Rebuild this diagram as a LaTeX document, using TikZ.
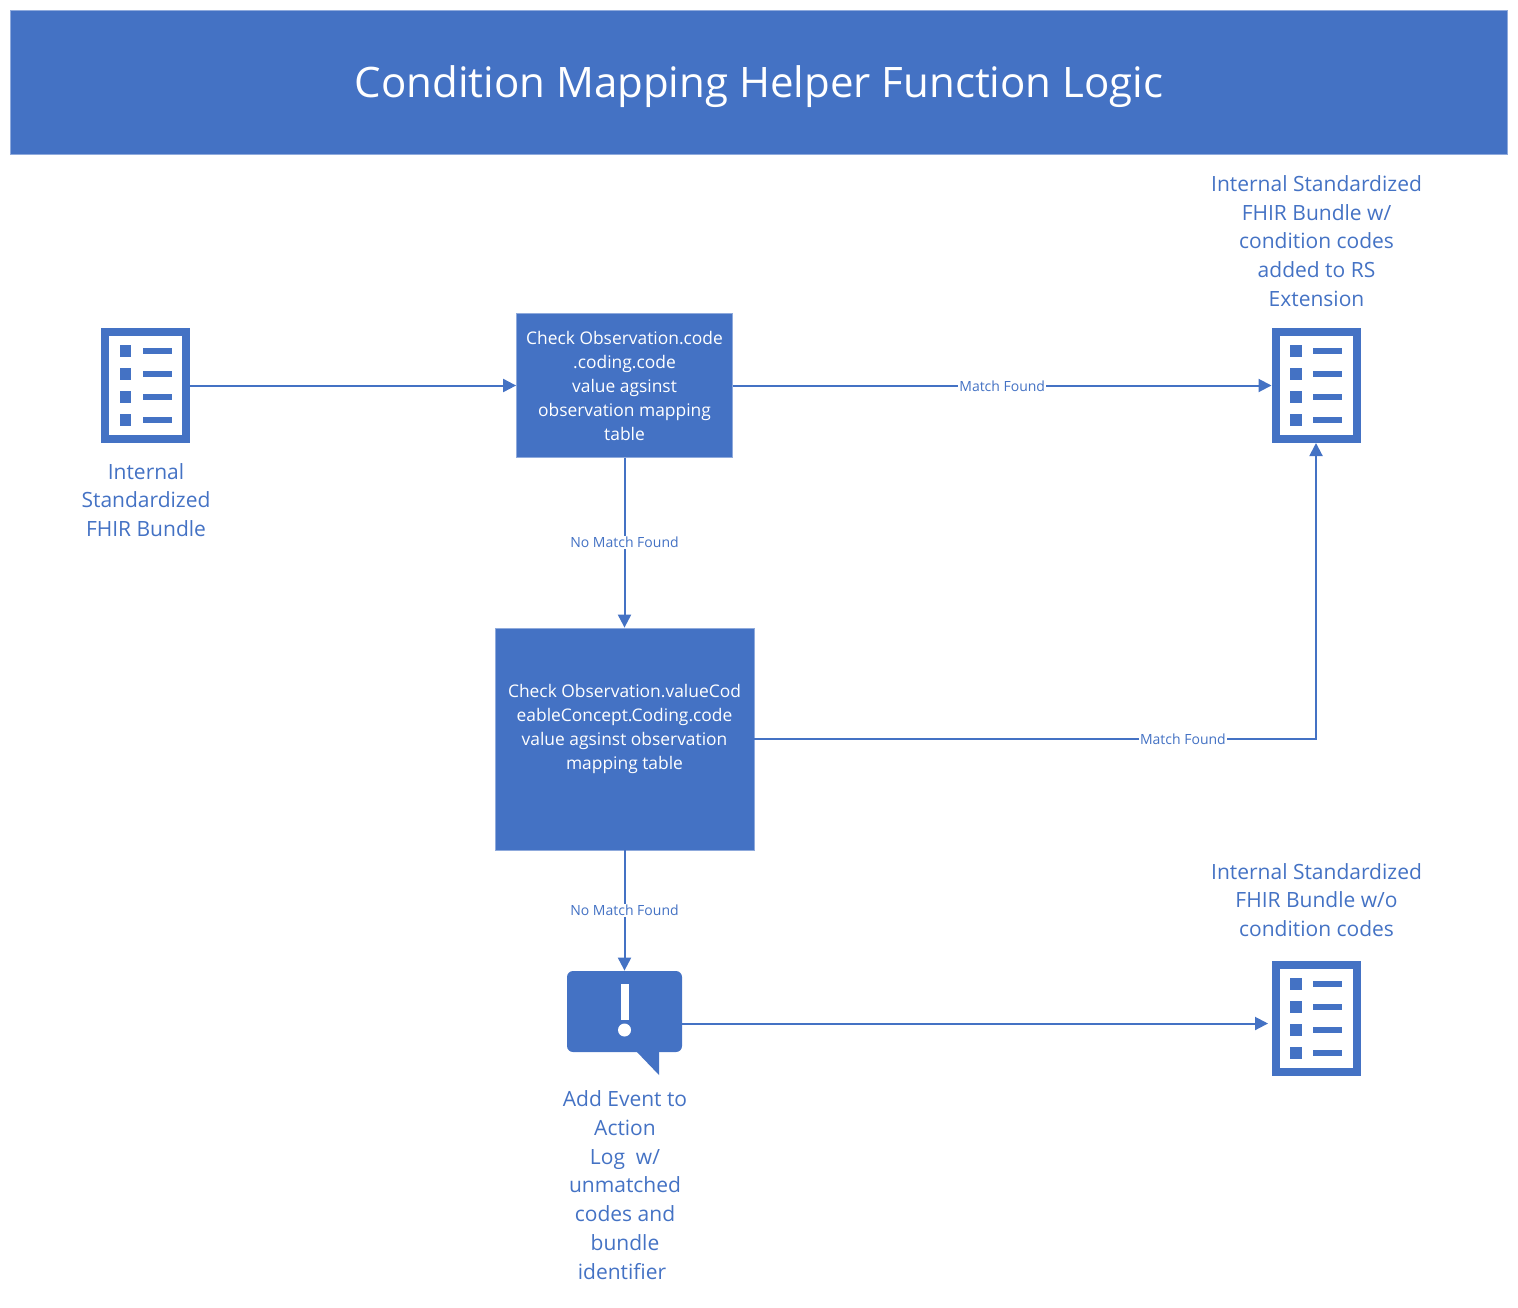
\documentclass[tikz,border=0pt]{standalone}
\usepackage{fontspec}
\setmainfont{Open Sans}
\usetikzlibrary{arrows.meta,positioning}
\definecolor{msblue}{HTML}{4472C4}
\definecolor{msedge}{HTML}{8FAADC}
\tikzset{
  x=0.5pt,y=-0.5pt,
  flow/.style={draw=msblue,line width=1pt,-{Triangle[length=6.5pt,width=6.5pt]}},
  procbox/.style={rectangle,fill=msblue,draw=msedge,line width=0.4pt,text=white,align=center,inner sep=0pt,
    font=\fontsize{8.7}{12}\selectfont},
  caption/.style={text=msblue,align=center,inner sep=0pt,font=\fontsize{10.5}{14.35}\selectfont},
  edgelabel/.style={text=msblue,fill=white,inner sep=0.5pt,yshift=-0.25pt,font=\fontsize{7}{8}\selectfont},
  docframe/.style={rectangle,draw=msblue,line width=4pt,fill=white,minimum width=40.5pt,minimum height=53.5pt,inner sep=0pt},
  docmark/.style={fill=msblue,draw=none}
}
\newcommand{\docicon}[3]{%
  \node[docframe] (#1) at (#2,#3) {};
  \foreach \k in {0,1,2,3}{
    \fill[docmark] (#2-26,#3-40.5+\k*23) rectangle (#2-14.5,#3-28.5+\k*23);
    \fill[docmark] (#2-3,#3-37.5+\k*23) rectangle (#2+26,#3-31.5+\k*23);
  }
}
\begin{document}
\begin{tikzpicture}
\useasboundingbox (0,0) rectangle (1518,1307);
\node[rectangle,fill=msblue,draw=msedge,line width=0.4pt,minimum width=748.5pt,minimum height=72pt,inner sep=0pt,text=white,
  font=\fontsize{21}{26}\selectfont] (title) at (759,82.5) {\raisebox{-7.5pt}[0pt][0pt]{Condition Mapping Helper Function Logic}};

\docicon{docin}{145.5}{385.5}
\docicon{docmatch}{1316}{385.5}
\docicon{docnone}{1316}{1018.5}

\node[procbox,minimum width=108pt,minimum height=72pt] (boxone) at (624.5,385.5)
  {Check Observation.code\\.coding.code\\value agsinst\\observation mapping\\table};
\node[procbox,minimum width=129.5pt,minimum height=111pt] (boxtwo) at (624.5,739)
  {Check Observation.valueCod\\eableConcept.Coding.code\\value agsinst observation\\mapping table\\\mbox{}};

\node[rectangle,fill=msblue,rounded corners=3pt,minimum width=57.5pt,minimum height=40.5pt,inner sep=0pt] (bubble) at (624.5,1011.5) {};
\fill[msblue] (636,1051) -- (659,1075) -- (659,1051) -- cycle;
\fill[white] (620.5,984) rectangle (628.5,1020);
\fill[white] (624.5,1030) circle[radius=6.5];

\node[caption] (capin) at (146,500) {Internal\\Standardized\\FHIR Bundle};
\node[caption] (capmatch) at (1316.5,241) {Internal Standardized\\FHIR Bundle w/\\condition codes\\added to RS\\Extension};
\node[caption] (capnone) at (1316.5,900) {Internal Standardized\\FHIR Bundle w/o\\condition codes};
\node[caption] (capevent) at (625,1185) {Add Event to\\Action\\Log\ \ w/\\unmatched\\codes and\\bundle\\\mbox{identifier\hspace{3pt}}};

\coordinate (bubbleout) at (682,1023.5);
\coordinate (nonein) at (1268,1023.5);

\draw[flow] (docin.east) -- (boxone.west);
\draw[flow] (boxone.east) -- node[edgelabel,pos=0.5] (l1) {Match Found} (docmatch.west);
\draw[flow] (boxone.south) -- node[edgelabel,pos=0.495] (l2) {No Match Found} (boxtwo.north);
\draw[flow] (boxtwo.east) -- node[edgelabel,pos=0.763] (l3) {Match Found} (docmatch.south |- boxtwo.east) -- (docmatch.south);
\draw[flow] (boxtwo.south) -- node[edgelabel,pos=0.495] (l4) {No Match Found} (bubble.north);
\draw[flow] (bubbleout) -- (nonein);
\end{tikzpicture}
\end{document}
